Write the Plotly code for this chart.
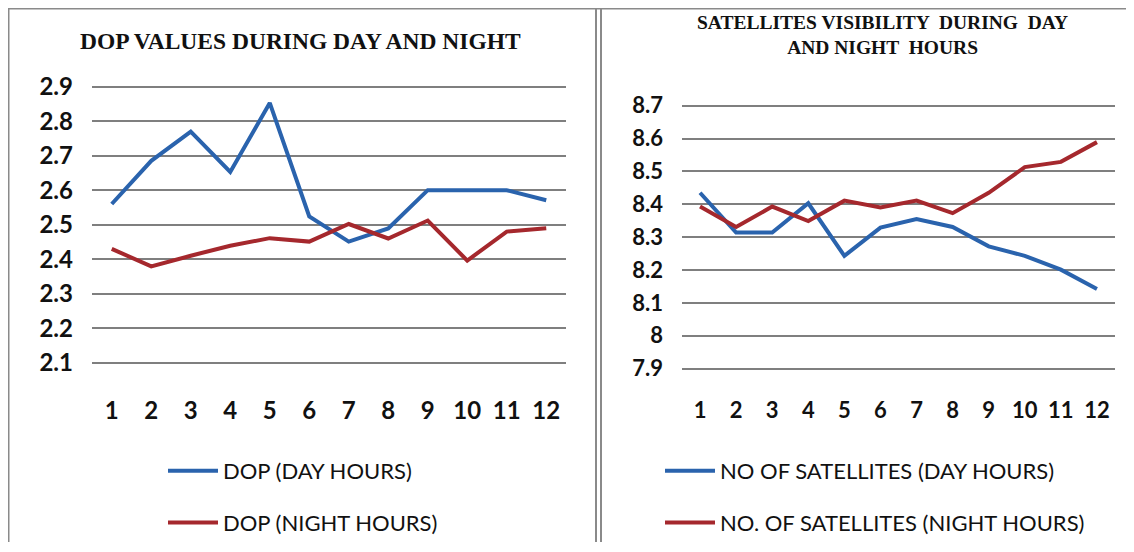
import plotly.graph_objects as go

hours = [1, 2, 3, 4, 5, 6, 7, 8, 9, 10, 11, 12]
hour_labels = ["1", "2", "3", "4", "5", "6", "7", "8", "9", "10", "11", "12"]

dop_day = [2.56, 2.685, 2.77, 2.653, 2.853, 2.524, 2.451, 2.489, 2.60, 2.60, 2.60, 2.571]
dop_night = [2.43, 2.379, 2.41, 2.439, 2.461, 2.451, 2.502, 2.46, 2.512, 2.396, 2.48, 2.49]

sat_day = [8.435, 8.314, 8.314, 8.403, 8.243, 8.329, 8.355, 8.331, 8.272, 8.243, 8.201, 8.142]
sat_night = [8.393, 8.331, 8.393, 8.349, 8.411, 8.39, 8.411, 8.373, 8.435, 8.513, 8.529, 8.589]

dop_ticks = [2.1, 2.2, 2.3, 2.4, 2.5, 2.6, 2.7, 2.8, 2.9]
dop_ticktext = ["2.1", "2.2", "2.3", "2.4", "2.5", "2.6", "2.7", "2.8", "2.9"]
sat_ticks = [7.9, 8.0, 8.1, 8.2, 8.3, 8.4, 8.5, 8.6, 8.7]
sat_ticktext = ["7.9", "8", "8.1", "8.2", "8.3", "8.4", "8.5", "8.6", "8.7"]

BLUE = "#2a63ad"
RED = "#a5282d"
GRID = "#7f7f7f"
BORDER = "#8a8a8a"

# page body has an 8px margin; figure sized to fit inside the window
OFF = 8
W, H = 1134 - 2 * OFF, 552 - 2 * OFF


def px(x):
    return (x - OFF) / W


def py(y):
    return 1 - (y - OFF) / H


fig = go.Figure()
fig.add_trace(go.Scatter(x=hours, y=dop_day, mode="lines", name="DOP (DAY HOURS)",
                         line=dict(color=BLUE, width=4), xaxis="x", yaxis="y",
                         legend="legend", legendgroup="a"))
fig.add_trace(go.Scatter(x=hours, y=dop_night, mode="lines", name="DOP (NIGHT HOURS)",
                         line=dict(color=RED, width=4), xaxis="x", yaxis="y",
                         legend="legend", legendgroup="b"))
fig.add_trace(go.Scatter(x=hours, y=sat_day, mode="lines", name="NO OF SATELLITES (DAY HOURS)",
                         line=dict(color=BLUE, width=4), xaxis="x2", yaxis="y2",
                         legend="legend2", legendgroup="c"))
fig.add_trace(go.Scatter(x=hours, y=sat_night, mode="lines", name="NO. OF SATELLITES (NIGHT HOURS)",
                         line=dict(color=RED, width=4), xaxis="x2", yaxis="y2",
                         legend="legend2", legendgroup="d"))

tickfont_l = dict(family="Lato", size=24, color="#111111", weight="bold")
tickfont_r = dict(family="Lato", size=22, color="#111111", weight="bold")


def xa(domain, anchor, font, standoff):
    return dict(domain=domain, anchor=anchor, range=[0.5, 12.5], tickmode="array",
                tickvals=hours, ticktext=hour_labels, showgrid=False, zeroline=False,
                showline=False, ticks="", tickfont=font, ticklabelstandoff=standoff,
                automargin=False, fixedrange=True)


def ya(domain, anchor, rng, vals, text, font, standoff):
    return dict(domain=domain, anchor=anchor, range=rng, tickmode="array",
                tickvals=vals, ticktext=text, showgrid=True, gridcolor=GRID, gridwidth=1.5,
                zeroline=False, showline=False, ticks="", tickfont=font,
                ticklabelstandoff=standoff, automargin=False, fixedrange=True)


legend_font = dict(family="Lato", size=22, color="#111111")

# ranges padded by 0.01 so the end gridlines are not clipped; domains padded to match
fig.update_layout(
    width=W, height=H,
    margin=dict(l=0, r=0, t=0, b=0, pad=0),
    paper_bgcolor="white", plot_bgcolor="white",
    xaxis=xa([px(92), px(566)], "y", tickfont_l, 28),
    yaxis=ya([py(367.5), py(83.5)], "x", [2.09, 2.91], dop_ticks, dop_ticktext, tickfont_l, 18),
    xaxis2=xa([px(682), px(1115)], "y2", tickfont_r, 23),
    yaxis2=ya([py(373.3), py(102.7)], "x2", [7.89, 8.71], sat_ticks, sat_ticktext, tickfont_r, 18),
    legend=dict(x=px(163), y=py(452), xanchor="left", yanchor="top",
                bgcolor="rgba(0,0,0,0)", tracegroupgap=20, itemwidth=50,
                font=legend_font),
    legend2=dict(x=px(660), y=py(452), xanchor="left", yanchor="top",
                 bgcolor="rgba(0,0,0,0)", tracegroupgap=20, itemwidth=50,
                 font=legend_font),
    annotations=[
        dict(text="<b>DOP VALUES DURING DAY AND NIGHT</b>", x=px(300), y=py(41),
             xref="paper", yref="paper", xanchor="center", yanchor="middle", showarrow=False,
             font=dict(family="Liberation Serif", size=23.5, color="#111111")),
        dict(text="<b>SATELLITES VISIBILITY  DURING  DAY<br>AND NIGHT  HOURS</b>", x=px(882), y=py(35),
             xref="paper", yref="paper", xanchor="center", yanchor="middle", showarrow=False,
             font=dict(family="Liberation Serif", size=19.5, color="#111111")),
    ],
    shapes=[
        dict(type="line", xref="paper", yref="paper", x0=px(8), x1=1, y0=py(8.5), y1=py(8.5),
             line=dict(color=BORDER, width=2)),
        dict(type="line", xref="paper", yref="paper", x0=px(8.5), x1=px(8.5), y0=0, y1=py(8),
             line=dict(color=BORDER, width=2)),
        dict(type="line", xref="paper", yref="paper", x0=px(596), x1=px(596), y0=0, y1=py(8),
             line=dict(color=BORDER, width=2)),
        dict(type="line", xref="paper", yref="paper", x0=px(601), x1=px(601), y0=0, y1=py(8),
             line=dict(color=BORDER, width=2)),
    ],
)

fig.write_html("out.html")
